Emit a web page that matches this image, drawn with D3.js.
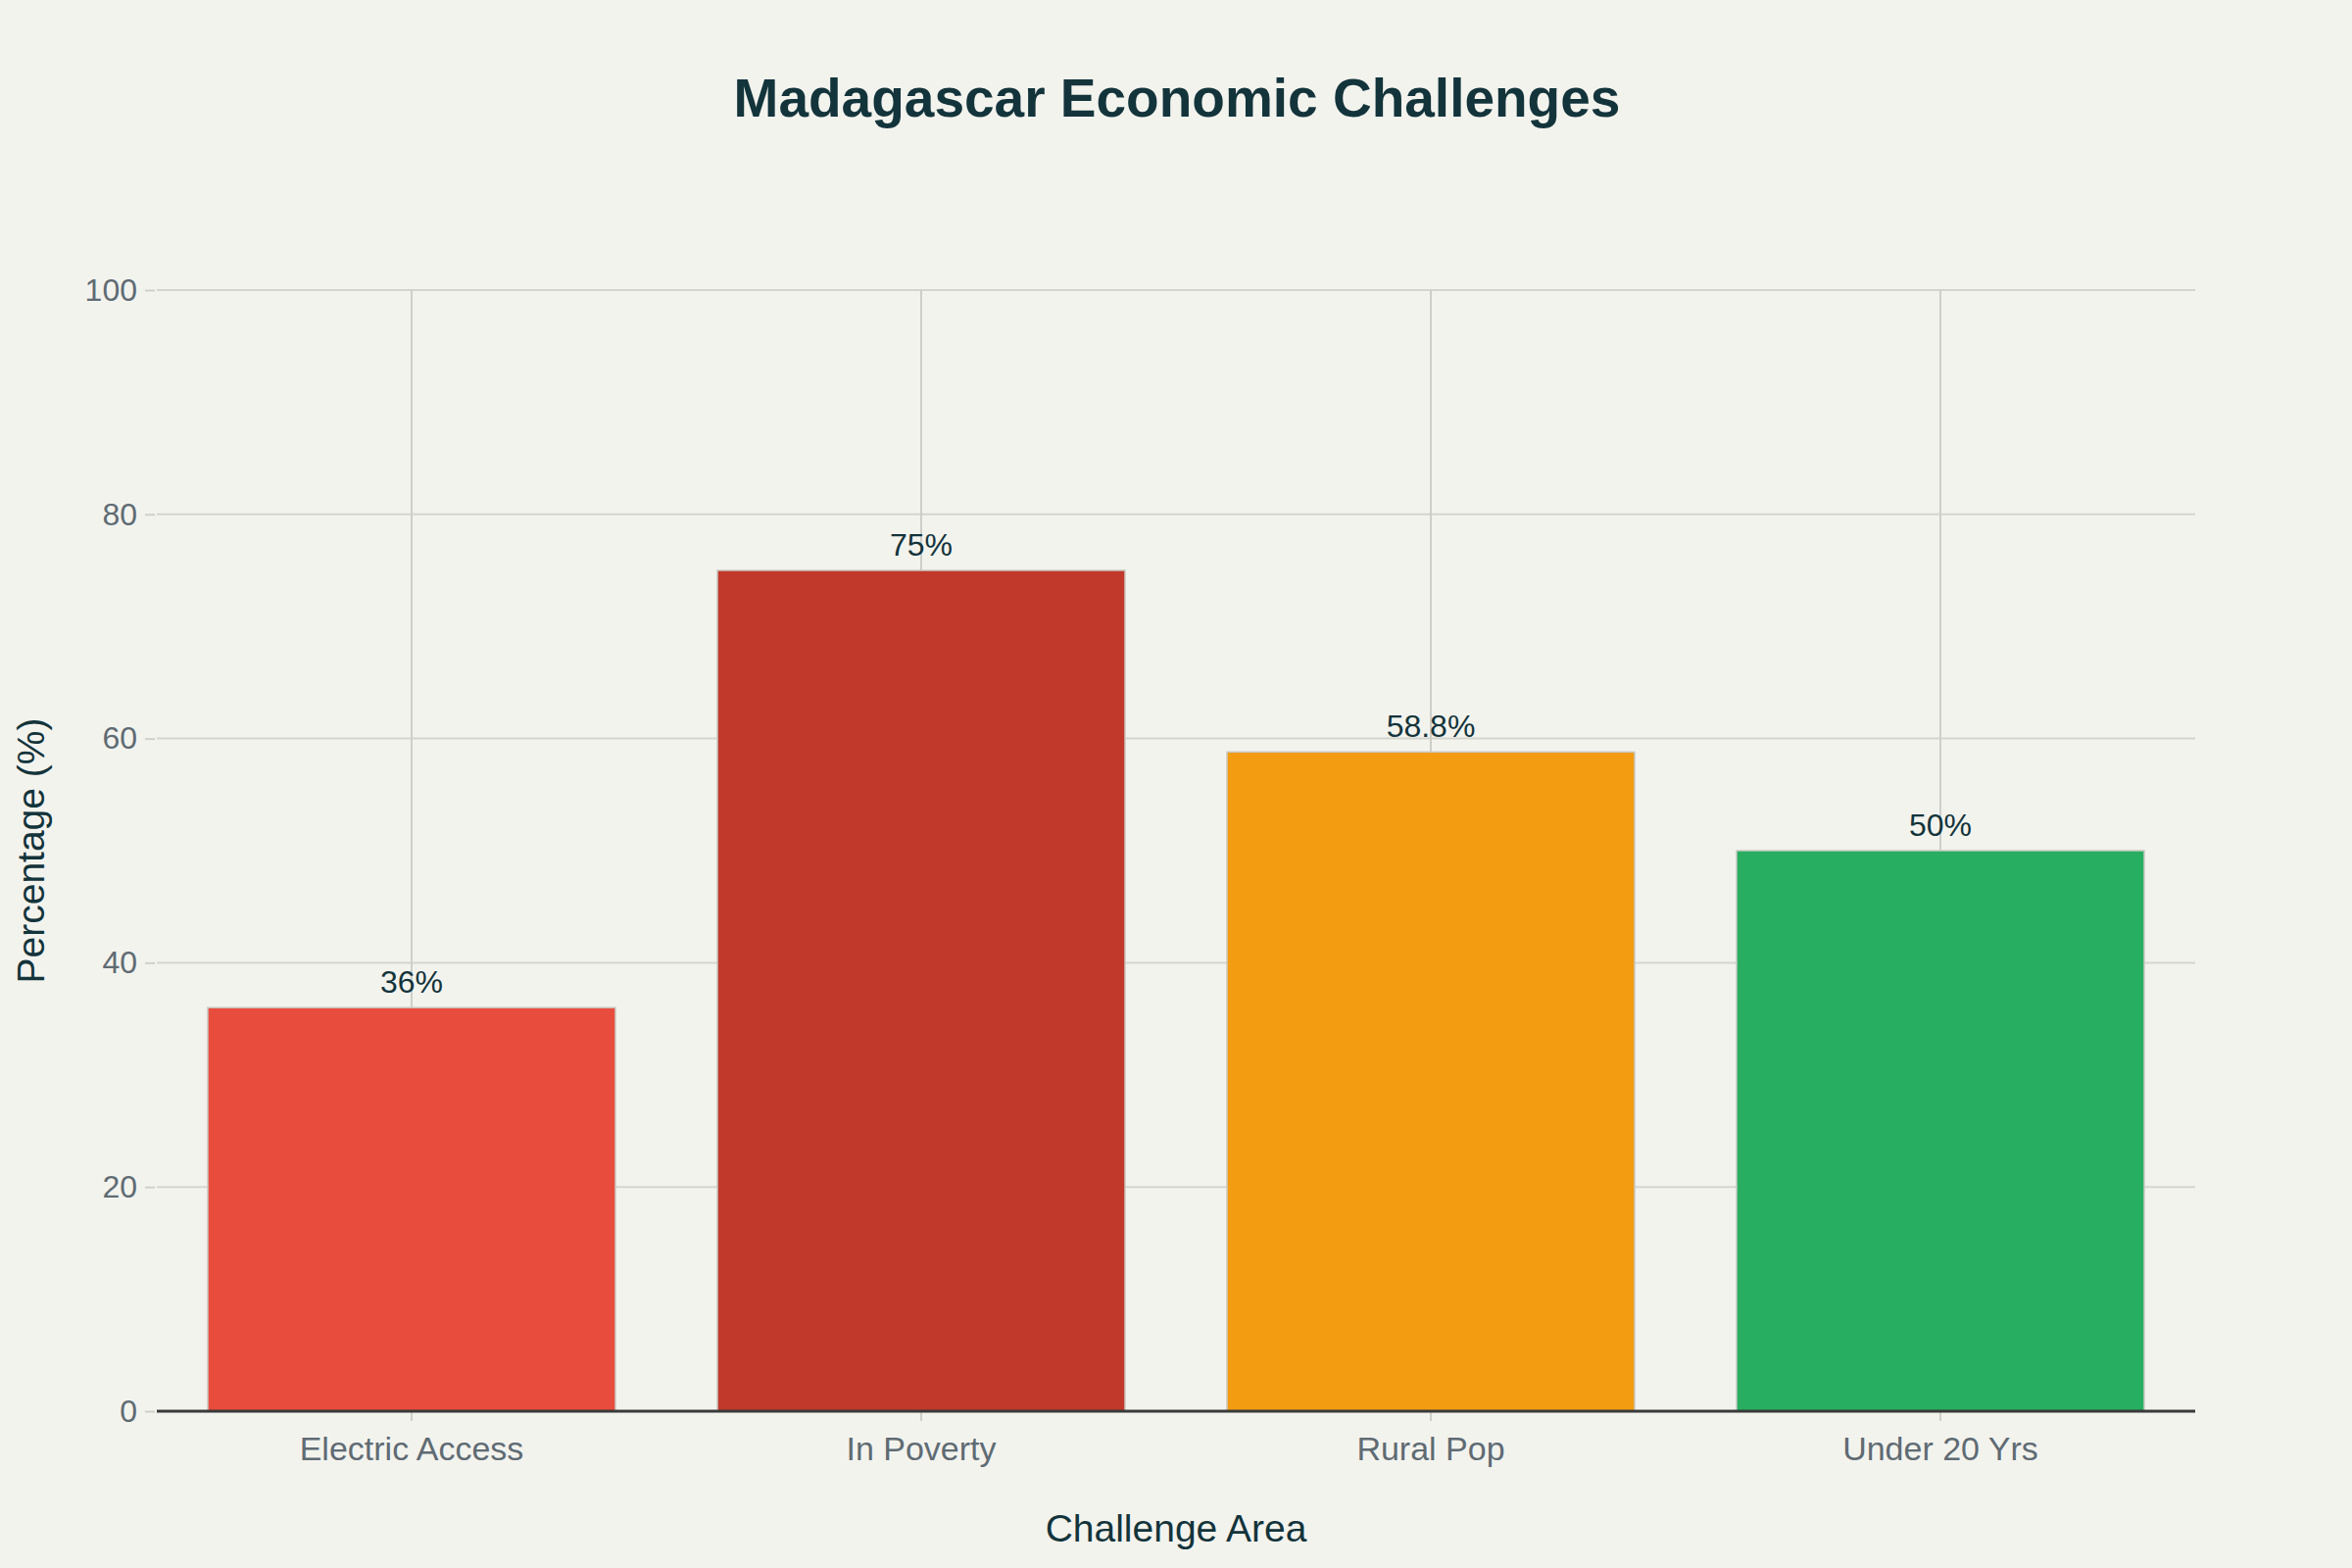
<!DOCTYPE html>
<html>
<head>
<meta charset="utf-8">
<script src="https://cdn.jsdelivr.net/npm/d3@7"></script>
<style>
  html, body { margin: 0; padding: 0; background: #F3F3EE; }
  svg { display: block; }
  text { font-family: "Liberation Sans", Arial, sans-serif; }
</style>
</head>
<body>
<svg id="chart" width="2400" height="1600"></svg>
<script>
const categories = ["Electric Access", "In Poverty", "Rural Pop", "Under 20 Yrs"];
const values = [36, 75, 58.8, 50];
const labels = ["36%", "75%", "58.8%", "50%"];
const colors = ["#E74C3C", "#C0392B", "#F39C12", "#27AE60"];
const yTicks = [0, 20, 40, 60, 80, 100];

const W = 2400, H = 1600;
const margin = { left: 160, right: 160, top: 296, bottom: 160 };
const svg = d3.select("#chart");
svg.append("rect").attr("width", W).attr("height", H).attr("fill", "#F3F3EE");

const x = d3.scaleBand().domain(categories).range([margin.left, W - margin.right])
  .paddingInner(0.2).paddingOuter(0.1);
const y = d3.scaleLinear().domain([0, 100]).range([H - margin.bottom, margin.top]);

const gridColor = "#D5D5D0";

// horizontal grid
svg.append("g").selectAll("line").data(yTicks.filter(d => d !== 0)).join("line")
  .attr("x1", margin.left).attr("x2", W - margin.right)
  .attr("y1", d => y(d)).attr("y2", d => y(d))
  .attr("stroke", gridColor).attr("stroke-width", 2);

// vertical grid at category centers
svg.append("g").selectAll("line").data(categories).join("line")
  .attr("x1", d => x(d) + x.bandwidth() / 2).attr("x2", d => x(d) + x.bandwidth() / 2)
  .attr("y1", y(0)).attr("y2", y(100))
  .attr("stroke", "#CFCFCA").attr("stroke-width", 2);

// y axis ticks + labels
const yAxis = d3.axisLeft(y).tickValues(yTicks).tickSize(10).tickPadding(8).tickFormat(d3.format("d"));
const gy = svg.append("g").attr("transform", `translate(${margin.left - 2},0)`).call(yAxis);
gy.select(".domain").remove();
gy.selectAll(".tick line").attr("stroke", "#D0D0CB").attr("stroke-width", 2);
gy.selectAll(".tick text").attr("fill", "#5F6B73").style("font-size", "32px")
  .style("font-family", "'Liberation Sans', Arial, sans-serif");

// bars
svg.append("g").selectAll("rect").data(categories).join("rect")
  .attr("x", d => x(d))
  .attr("width", x.bandwidth())
  .attr("y", (d, i) => y(values[i]))
  .attr("height", (d, i) => y(0) - y(values[i]))
  .attr("fill", (d, i) => colors[i])
  .attr("stroke", "#C9C9C2").attr("stroke-width", 1.5);

// value labels
svg.append("g").selectAll("text").data(categories).join("text")
  .attr("x", d => x(d) + x.bandwidth() / 2)
  .attr("y", (d, i) => y(values[i]) - 15)
  .attr("text-anchor", "middle")
  .attr("fill", "#13343B")
  .style("font-size", "32px")
  .text((d, i) => labels[i]);

// x axis
const xAxis = d3.axisBottom(x).tickSize(10).tickPadding(16);
const gx = svg.append("g").attr("transform", `translate(0,${y(0)})`).call(xAxis);
gx.select(".domain").remove();
gx.selectAll(".tick line").attr("stroke", "#D0D0CB").attr("stroke-width", 2);
gx.selectAll(".tick text").attr("fill", "#5F6B73").style("font-size", "34px")
  .style("font-family", "'Liberation Sans', Arial, sans-serif");

// x axis baseline
svg.append("line")
  .attr("x1", margin.left).attr("x2", W - margin.right)
  .attr("y1", y(0)).attr("y2", y(0))
  .attr("stroke", "#3A3A3A").attr("stroke-width", 3);

// axis titles
svg.append("text")
  .attr("x", (margin.left + W - margin.right) / 2).attr("y", 1573)
  .attr("text-anchor", "middle").attr("fill", "#13343B")
  .style("font-size", "39px").text("Challenge Area");

svg.append("text")
  .attr("transform", `translate(45,${(y(0) + y(100)) / 2}) rotate(-90)`)
  .attr("text-anchor", "middle").attr("fill", "#13343B")
  .style("font-size", "39px").text("Percentage (%)");

// title
svg.append("text")
  .attr("x", 1201).attr("y", 119)
  .attr("text-anchor", "middle").attr("fill", "#13343B")
  .style("font-size", "55px").style("font-weight", "bold")
  .text("Madagascar Economic Challenges");
</script>
</body>
</html>
